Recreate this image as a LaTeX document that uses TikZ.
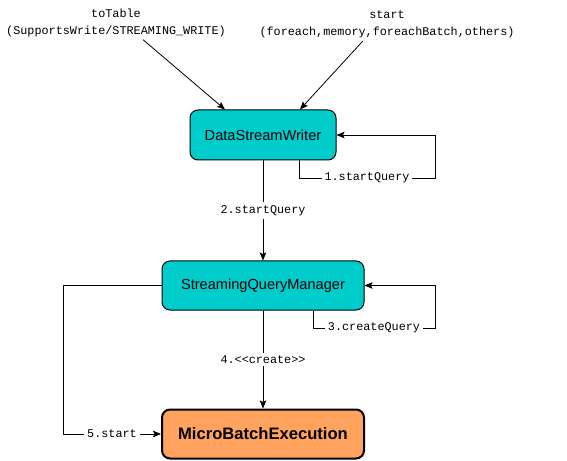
\documentclass[tikz,border=0pt]{standalone}
\usepackage{fontspec}
\usetikzlibrary{arrows.meta,calc}
\newfontfamily\boxfont{Liberation Sans}
\newfontfamily\codefont{Liberation Mono}
\definecolor{boxcyan}{RGB}{0,204,204}
\definecolor{boxorange}{RGB}{255,163,94}
\tikzset{
  cls/.style={draw=black, line width=1bp, rounded corners=8bp, fill=boxcyan,
    font=\boxfont\fontsize{14.6bp}{17bp}\selectfont, inner sep=0pt},
  mainbox/.style={draw=black, line width=2bp, rounded corners=8bp, fill=boxorange,
    font=\boxfont\bfseries\fontsize{16.6bp}{19bp}\selectfont, inner sep=0pt},
  code/.style={font=\codefont\fontsize{11.8bp}{17bp}\selectfont, align=center, inner sep=1bp},
  lbl/.style={code, fill=white, inner sep=3bp},
  arr/.style={draw=black, line width=0.8bp, -{Stealth[length=8bp,width=6.5bp,inset=1.5bp]}}
}
\begin{document}
\begin{tikzpicture}[x=1bp,y=-1bp]
\useasboundingbox (0,0) rectangle (567,461);
\node[cls, minimum width=146bp, minimum height=50bp] (dsw) at (263,135) {DataStreamWriter};
\node[cls, minimum width=202bp, minimum height=49bp] (sqm) at (263,285.5) {StreamingQueryManager};
\node[mainbox, minimum width=202bp, minimum height=49bp] (mbe) at (263,434) {MicroBatchExecution};

\node[code] (tt) at (116,22.5) {toTable\\(SupportsWrite/STREAMING\_WRITE)};
\node[code] (st) at (387,24) {start\\(foreach,memory,foreachBatch,others)};

\coordinate (c1) at (435,178);
\coordinate (c3) at (435,328);
\coordinate (c5) at (63,434);

\draw[arr] ([xshift=27bp,yshift=-2bp]tt.south) -- ([xshift=-38bp]dsw.north);
\draw[arr] ([xshift=-24bp,yshift=-2bp]st.south) -- ([xshift=37bp]dsw.north);

\draw[arr] ([xshift=36bp]dsw.south) |- node[lbl, pos=0.75] {1.startQuery} (c1) |- (dsw.east);
\draw[arr] (dsw.south) -- node[lbl] {2.startQuery} (sqm.north);
\draw[arr] ([xshift=50bp]sqm.south) |- node[lbl, pos=0.75] {3.createQuery} (c3) |- (sqm.east);
\draw[arr] (sqm.south) -- node[lbl] {4.<{}<create>{}>} (mbe.north);
\draw[arr] (sqm.west) -| (c5) -- node[lbl] {5.start} (mbe.west);
\end{tikzpicture}
\end{document}
